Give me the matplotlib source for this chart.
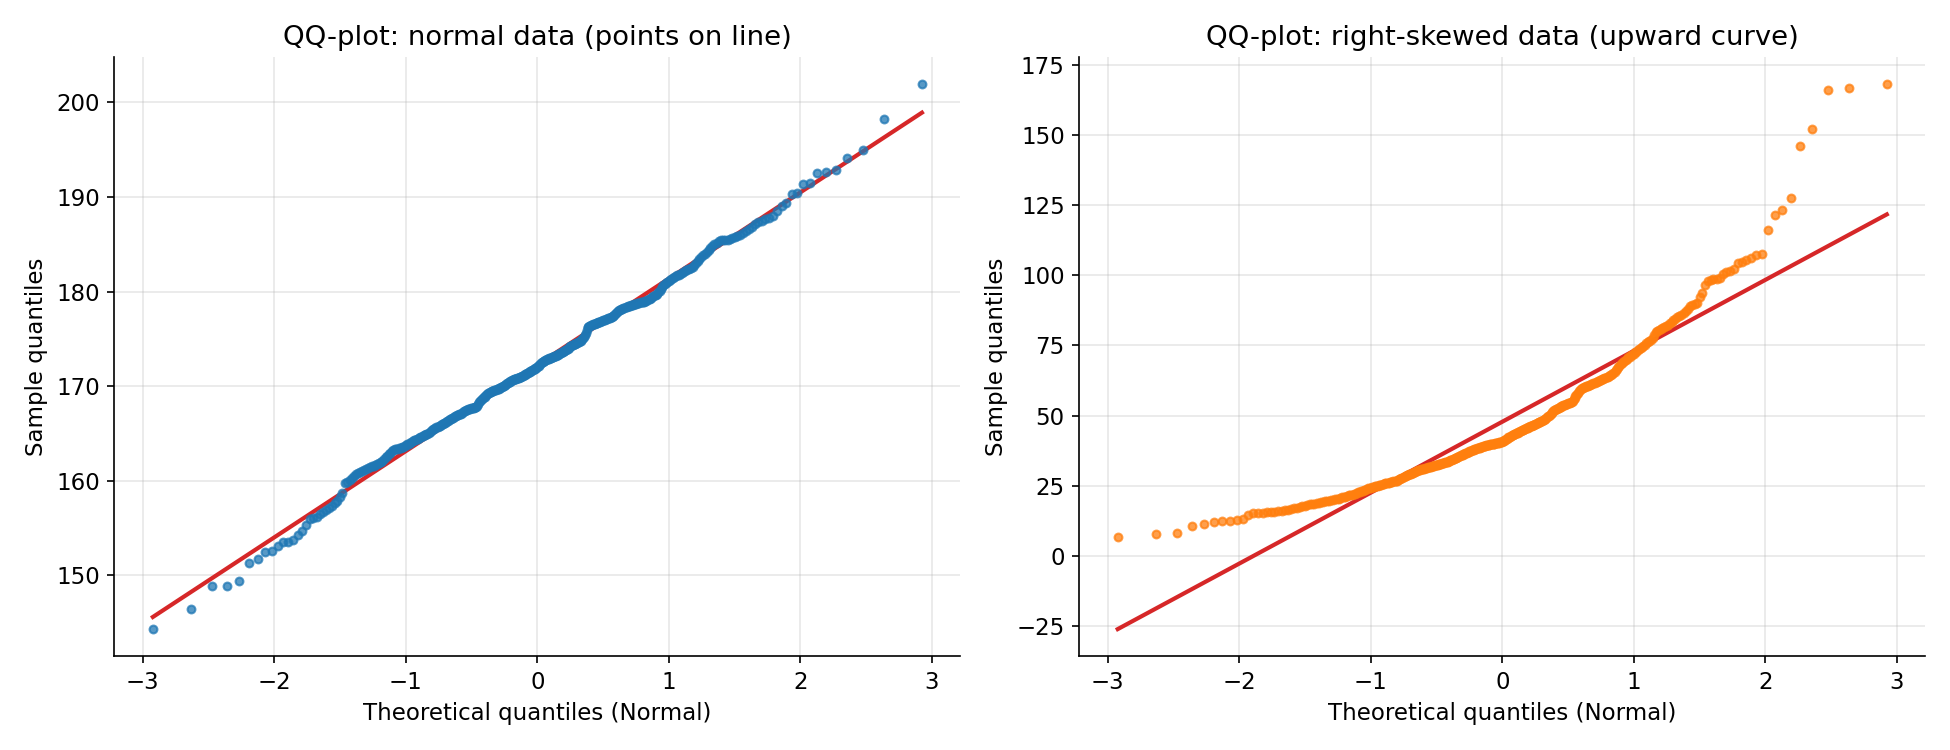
from statistics import NormalDist

import numpy as np
import matplotlib
matplotlib.use("Agg")
import matplotlib.pyplot as plt

# sorted sample values (order statistics), n = 400 each
normal_sample = [
    144.3, 146.4, 148.9, 148.9, 149.4, 151.3, 151.7, 152.5, 152.6, 153.1,
    153.5, 153.5, 153.7, 154.2, 154.7, 155.3, 155.9, 156.1, 156.2, 156.5,
    156.7, 156.9, 157.1, 157.3, 157.6, 157.9, 158.3, 158.7, 159.7, 159.9,
    160.1, 160.3, 160.5, 160.7, 160.8, 160.9, 161.0, 161.1, 161.2, 161.3,
    161.4, 161.5, 161.6, 161.7, 161.8, 161.9, 162.0, 162.1, 162.3, 162.5,
    162.6, 162.8, 162.9, 163.1, 163.2, 163.3, 163.3, 163.4, 163.5, 163.5,
    163.6, 163.6, 163.7, 163.8, 163.9, 163.9, 164.0, 164.1, 164.2, 164.3,
    164.3, 164.4, 164.4, 164.5, 164.6, 164.6, 164.7, 164.8, 164.8, 164.9,
    164.9, 165.0, 165.1, 165.2, 165.4, 165.5, 165.5, 165.6, 165.7, 165.7,
    165.8, 165.8, 165.9, 166.0, 166.0, 166.1, 166.1, 166.2, 166.3, 166.3,
    166.4, 166.5, 166.5, 166.6, 166.6, 166.7, 166.8, 166.8, 166.9, 166.9,
    167.0, 167.0, 167.1, 167.2, 167.3, 167.4, 167.4, 167.5, 167.5, 167.6,
    167.6, 167.6, 167.7, 167.7, 167.7, 167.7, 167.8, 167.8, 167.8, 167.9,
    168.1, 168.3, 168.4, 168.5, 168.6, 168.7, 168.8, 168.9, 169.0, 169.1,
    169.2, 169.3, 169.3, 169.4, 169.4, 169.5, 169.5, 169.5, 169.6, 169.6,
    169.6, 169.7, 169.7, 169.7, 169.8, 169.8, 169.9, 169.9, 170.0, 170.0,
    170.1, 170.1, 170.2, 170.3, 170.3, 170.4, 170.4, 170.5, 170.5, 170.6,
    170.6, 170.7, 170.7, 170.8, 170.8, 170.9, 170.9, 170.9, 171.0, 171.0,
    171.0, 171.1, 171.1, 171.2, 171.2, 171.3, 171.3, 171.4, 171.4, 171.5,
    171.5, 171.6, 171.6, 171.7, 171.7, 171.8, 171.8, 171.9, 171.9, 172.0,
    172.1, 172.1, 172.2, 172.3, 172.4, 172.5, 172.6, 172.7, 172.7, 172.8,
    172.8, 172.9, 172.9, 172.9, 173.0, 173.0, 173.0, 173.1, 173.1, 173.1,
    173.2, 173.2, 173.2, 173.3, 173.3, 173.4, 173.4, 173.5, 173.5, 173.6,
    173.6, 173.7, 173.7, 173.8, 173.8, 173.9, 173.9, 174.0, 174.1, 174.2,
    174.2, 174.3, 174.3, 174.4, 174.5, 174.5, 174.6, 174.6, 174.7, 174.7,
    174.8, 174.8, 174.9, 175.0, 175.1, 175.2, 175.4, 175.6, 175.9, 176.2,
    176.3, 176.4, 176.4, 176.5, 176.5, 176.6, 176.6, 176.6, 176.7, 176.7,
    176.7, 176.8, 176.8, 176.8, 176.9, 176.9, 177.0, 177.0, 177.0, 177.1,
    177.1, 177.2, 177.2, 177.2, 177.3, 177.3, 177.4, 177.4, 177.5, 177.6,
    177.7, 177.8, 177.9, 178.0, 178.1, 178.2, 178.2, 178.3, 178.3, 178.4,
    178.4, 178.5, 178.5, 178.5, 178.6, 178.6, 178.6, 178.7, 178.7, 178.7,
    178.8, 178.8, 178.8, 178.9, 178.9, 178.9, 178.9, 179.0, 179.0, 179.1,
    179.2, 179.2, 179.3, 179.4, 179.5, 179.6, 179.6, 179.7, 179.9, 180.1,
    180.3, 180.5, 180.7, 180.8, 180.9, 181.0, 181.1, 181.2, 181.3, 181.4,
    181.5, 181.6, 181.7, 181.8, 181.9, 182.0, 182.1, 182.2, 182.3, 182.4,
    182.4, 182.5, 182.6, 182.8, 183.0, 183.2, 183.4, 183.7, 183.9, 184.0,
    184.2, 184.4, 184.6, 184.8, 185.0, 185.1, 185.3, 185.4, 185.4, 185.5,
    185.5, 185.6, 185.7, 185.8, 185.9, 186.0, 186.2, 186.4, 186.6, 186.8,
    187.1, 187.4, 187.5, 187.7, 187.8, 188.0, 188.5, 189.0, 189.4, 190.3,
    190.4, 191.4, 191.5, 192.5, 192.6, 192.9, 194.1, 195.0, 198.2, 201.9,
]

skewed_sample = [
    6.6, 7.6, 8.0, 10.8, 11.5, 11.9, 12.3, 12.3, 12.7, 13.1,
    14.5, 15.1, 15.3, 15.4, 15.5, 15.6, 15.7, 15.9, 16.1, 16.3,
    16.5, 16.7, 16.9, 17.1, 17.4, 17.6, 17.8, 18.1, 18.3, 18.5,
    18.6, 18.8, 19.0, 19.2, 19.3, 19.4, 19.6, 19.7, 19.8, 20.0,
    20.1, 20.3, 20.4, 20.6, 20.8, 20.9, 21.1, 21.3, 21.5, 21.7,
    21.8, 22.0, 22.2, 22.4, 22.6, 22.8, 23.0, 23.2, 23.4, 23.6,
    23.8, 24.0, 24.1, 24.3, 24.5, 24.6, 24.8, 24.9, 25.0, 25.1,
    25.3, 25.4, 25.5, 25.7, 25.8, 25.9, 26.0, 26.1, 26.2, 26.3,
    26.4, 26.5, 26.6, 26.7, 26.8, 27.0, 27.2, 27.5, 27.7, 27.9,
    28.1, 28.3, 28.5, 28.7, 28.8, 29.0, 29.2, 29.3, 29.5, 29.6,
    29.8, 30.0, 30.1, 30.3, 30.5, 30.6, 30.7, 30.8, 30.9, 31.0,
    31.1, 31.2, 31.3, 31.4, 31.5, 31.6, 31.7, 31.8, 31.9, 32.0,
    32.1, 32.2, 32.3, 32.4, 32.5, 32.6, 32.7, 32.8, 32.9, 33.0,
    33.1, 33.2, 33.3, 33.4, 33.5, 33.6, 33.7, 33.9, 34.0, 34.1,
    34.3, 34.4, 34.6, 34.7, 34.9, 35.0, 35.2, 35.3, 35.5, 35.7,
    35.8, 36.0, 36.1, 36.3, 36.4, 36.5, 36.7, 36.8, 36.9, 37.1,
    37.2, 37.3, 37.5, 37.6, 37.7, 37.8, 37.9, 38.0, 38.1, 38.3,
    38.4, 38.5, 38.6, 38.7, 38.8, 38.9, 39.0, 39.1, 39.2, 39.3,
    39.4, 39.4, 39.5, 39.6, 39.6, 39.7, 39.8, 39.8, 39.9, 40.0,
    40.0, 40.1, 40.1, 40.2, 40.3, 40.3, 40.4, 40.5, 40.5, 40.6,
    40.8, 41.0, 41.2, 41.4, 41.6, 41.8, 42.0, 42.2, 42.4, 42.5,
    42.7, 42.9, 43.0, 43.2, 43.3, 43.5, 43.6, 43.8, 43.9, 44.1,
    44.2, 44.4, 44.5, 44.7, 44.8, 45.0, 45.1, 45.3, 45.4, 45.6,
    45.7, 45.9, 46.0, 46.1, 46.3, 46.4, 46.5, 46.7, 46.8, 47.0,
    47.1, 47.3, 47.4, 47.6, 47.7, 47.8, 48.0, 48.1, 48.3, 48.4,
    48.6, 48.8, 49.1, 49.4, 49.7, 50.0, 50.3, 50.6, 50.9, 51.3,
    51.6, 51.9, 52.1, 52.3, 52.4, 52.6, 52.8, 52.9, 53.1, 53.3,
    53.4, 53.6, 53.8, 53.9, 54.1, 54.2, 54.4, 54.5, 54.6, 54.8,
    54.9, 55.3, 55.8, 56.3, 56.8, 57.2, 57.7, 58.2, 58.6, 59.0,
    59.4, 59.7, 59.9, 60.0, 60.2, 60.4, 60.5, 60.7, 60.9, 61.0,
    61.2, 61.4, 61.5, 61.7, 61.9, 62.0, 62.2, 62.4, 62.6, 62.8,
    62.9, 63.1, 63.3, 63.5, 63.7, 63.9, 64.1, 64.3, 64.5, 64.7,
    65.0, 65.5, 66.1, 66.7, 67.3, 67.8, 68.4, 68.9, 69.2, 69.6,
    69.9, 70.3, 70.7, 71.0, 71.4, 71.7, 72.1, 72.5, 72.8, 73.2,
    73.6, 74.0, 74.4, 74.9, 75.3, 75.7, 76.1, 76.4, 77.0, 77.8,
    78.6, 79.6, 80.2, 80.6, 80.9, 81.3, 81.7, 82.0, 82.4, 82.9,
    83.4, 83.9, 84.5, 85.0, 85.6, 86.0, 86.7, 87.4, 88.1, 88.9,
    89.4, 89.7, 90.0, 92.1, 93.5, 96.7, 98.0, 98.3, 98.5, 98.8,
    99.2, 100.6, 101.0, 101.5, 102.4, 104.2, 104.8, 105.5, 106.3, 107.2,
    107.4, 116.3, 121.3, 123.1, 127.7, 145.9, 152.3, 166.2, 166.6, 168.0,
]

titles = ["QQ-plot: normal data (points on line)",
          "QQ-plot: right-skewed data (upward curve)"]
point_colors = ["tab:blue", "tab:orange"]


def theoretical_quantiles(n):
    # Filliben plotting positions, as scipy.stats.probplot uses
    p = (np.arange(1, n + 1) - 0.3175) / (n + 0.365)
    p[-1] = 0.5 ** (1.0 / n)
    p[0] = 1 - p[-1]
    nd = NormalDist()
    return np.array([nd.inv_cdf(v) for v in p])


plt.rcParams["font.size"] = 11

fig, axes = plt.subplots(1, 2, figsize=(13, 5), dpi=150)

for ax, sample, title, color in zip(axes, [normal_sample, skewed_sample], titles, point_colors):
    y = np.array(sample)
    x = theoretical_quantiles(len(y))
    slope, intercept = np.polyfit(x, y, 1)

    ax.plot(x, slope * x + intercept, color="tab:red", lw=2, zorder=2)
    ax.scatter(x, y, s=14, color=color, alpha=0.75, zorder=3)

    ax.set_title(title)
    ax.set_xlabel("Theoretical quantiles (Normal)")
    ax.set_ylabel("Sample quantiles")
    ax.grid(alpha=0.3)
    ax.spines["top"].set_visible(False)
    ax.spines["right"].set_visible(False)

plt.tight_layout()
plt.savefig("out.png", dpi=150)
